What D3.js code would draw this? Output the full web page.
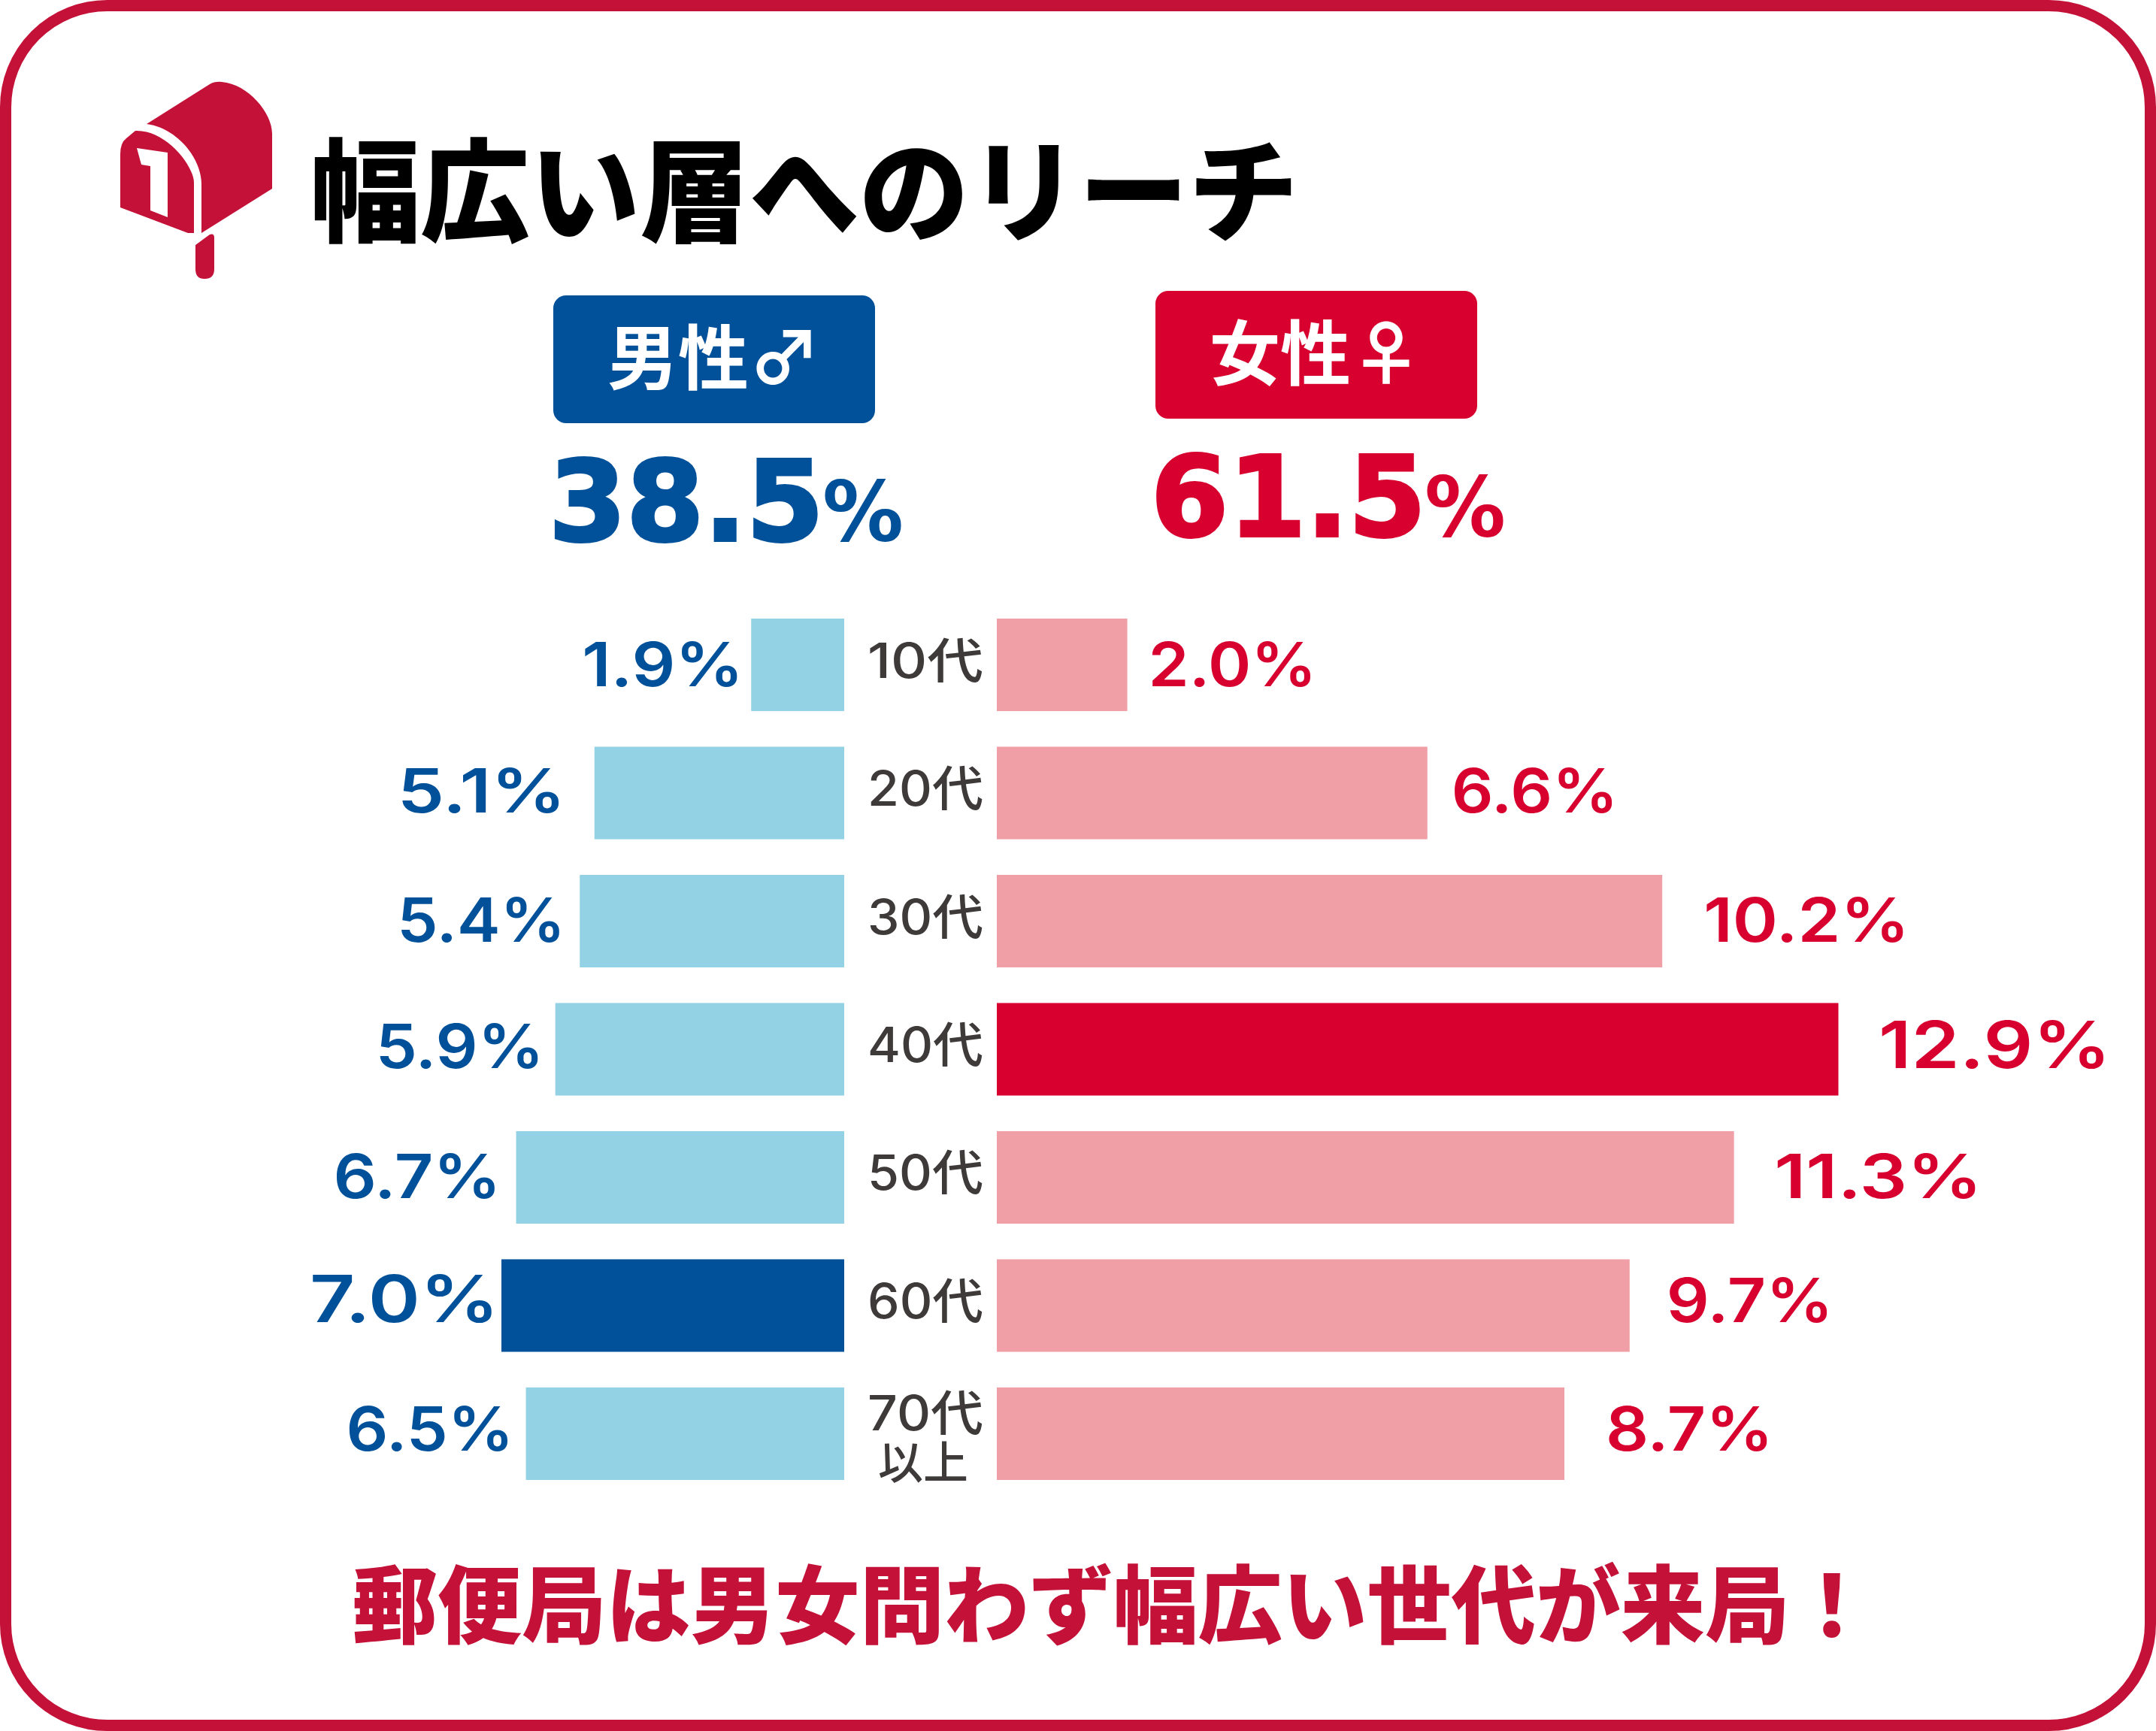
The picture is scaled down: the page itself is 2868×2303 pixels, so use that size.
<!DOCTYPE html>
<html lang="ja">
<head>
<meta charset="utf-8">
<title>幅広い層へのリーチ</title>
<script src="https://cdnjs.cloudflare.com/ajax/libs/d3/7.8.5/d3.min.js"></script>
<style>
  html, body { margin: 0; padding: 0; background: #fff; }
  svg { display: block; }
  .jp { font-family: "Noto Sans CJK JP", sans-serif; }
  .num { font-family: Inter, "Liberation Sans", sans-serif; }
  .total { font-family: "DejaVu Sans", sans-serif; }
  .age { font-family: Inter, "Noto Sans CJK JP", sans-serif; }
</style>
</head>
<body>
<svg id="chart" width="2868" height="2303"></svg>
<script>
const ageGroups = ['10代', '20代', '30代', '40代', '50代', '60代', '70代以上'];
const maleValues = [1.9, 5.1, 5.4, 5.9, 6.7, 7.0, 6.5];
const femaleValues = [2.0, 6.6, 10.2, 12.9, 11.3, 9.7, 8.7];
const genderNames = ['男性♂', '女性♀'];
const genderTotals = ['38.5', '61.5'];
const chartTitle = '幅広い層へのリーチ';
const footerText = '郵便局は男女問わず幅広い世代が来局！';

// the labels sit a little unevenly in the original, so they get their own tweaks
const rowBaseline = [90, 87.5, 89, 86.5, 89, 83.5, 84];
const maleGap = [10, 38, 19, 15, 20, 3, 16];
const femaleGap = [28, 32, 55, 53.5, 53.5, 49, 55];
const maleLabelWidth = [215, 224, 224, 224, 223, 252, 223];
const femaleLabelWidth = [224, 222, 274, 309, 277, 222, 223];

const colors = {
  frame: '#c41138',
  blue: '#00519a',
  lightBlue: '#93d2e4',
  red: '#d7002f',
  pink: '#f09fa6',
  text: '#3e3a39',
};

const svg = d3.select('#chart');

svg.append('rect')
  .attr('x', 7.5).attr('y', 7.5)
  .attr('width', 2853).attr('height', 2288)
  .attr('rx', 135).attr('ry', 135)
  .attr('fill', '#fff')
  .attr('stroke', colors.frame)
  .attr('stroke-width', 15);

// mailbox icon
const icon = svg.append('g').attr('fill', colors.frame);
icon.append('path').attr('d', 'M195,165 L279,112 Q286,108 295,109 C330,112 362,150 362,178 L362,251 L268,310 L268,245 C268,210 235,170 195,165 Z');
icon.append('path').attr('d', 'M180,174 C220,172 258,220 258,243 L258,310 L250,310 L160,276 L160,205 Q160,190 168,184 Z');
icon.append('path').attr('fill', '#fff').attr('d', 'M182,197 L223,203 L223,289 L200,280 L200,221 L188,219 Z');
icon.append('path').attr('d', 'M260,326 L279,312 Q285,310 285,316 L285,358 Q285,371 272,371 Q260,371 260,358 Z');

svg.append('text')
  .attr('class', 'jp')
  .attr('x', 413).attr('y', 310)
  .attr('font-size', 149).attr('font-weight', 900)
  .attr('fill', '#000')
  .attr('textLength', 1314).attr('lengthAdjust', 'spacingAndGlyphs')
  .text(chartTitle);

// gender badges and totals
const badgeColors = [colors.blue, colors.red];
const badgeX = [736, 1537];
const badgeY = [393, 387];

badgeX.forEach((x, i) => {
  const g = svg.append('g');
  g.append('rect')
    .attr('x', x).attr('y', badgeY[i])
    .attr('width', 428).attr('height', 170)
    .attr('rx', 17)
    .attr('fill', badgeColors[i]);
  g.append('text')
    .attr('class', 'jp')
    .attr('x', x + 72).attr('y', badgeY[i] + 118)
    .attr('font-size', 94).attr('font-weight', 700)
    .attr('fill', '#fff')
    .attr('textLength', 282).attr('lengthAdjust', 'spacingAndGlyphs')
    .text(genderNames[i]);
  g.append('text')
    .attr('class', 'total')
    .attr('x', x - 6).attr('y', badgeY[i] + 326)
    .attr('font-size', 148).attr('font-weight', 700)
    .attr('fill', badgeColors[i])
    .attr('stroke', badgeColors[i])
    .attr('stroke-width', 4)
    .attr('textLength', 366).attr('lengthAdjust', 'spacingAndGlyphs')
    .text(genderTotals[i]);
  g.append('text')
    .attr('class', 'total')
    .attr('x', x + 358).attr('y', badgeY[i] + 326)
    .attr('font-size', 110).attr('font-weight', 700)
    .attr('fill', badgeColors[i])
    .attr('textLength', 108).attr('lengthAdjust', 'spacingAndGlyphs')
    .text('%');
});

// pyramid
const y = d3.scaleBand()
  .domain(ageGroups)
  .range([823, 1969])
  .paddingInner(0.278);

const xMale = d3.scaleLinear().domain([0, 7.0]).range([1123, 667]);
const xFemale = d3.scaleLinear().domain([0, 12.9]).range([1326, 2445.5]);

const maleMax = d3.max(maleValues);
const femaleMax = d3.max(femaleValues);

svg.append('g').selectAll('rect')
  .data(maleValues)
  .join('rect')
  .attr('x', (d) => xMale(d))
  .attr('y', (d, i) => y(ageGroups[i]))
  .attr('width', (d) => xMale(0) - xMale(d))
  .attr('height', y.bandwidth())
  .attr('fill', (d) => (d === maleMax ? colors.blue : colors.lightBlue));

svg.append('g').selectAll('rect')
  .data(femaleValues)
  .join('rect')
  .attr('x', xFemale(0))
  .attr('y', (d, i) => y(ageGroups[i]))
  .attr('width', (d) => xFemale(d) - xFemale(0))
  .attr('height', y.bandwidth())
  .attr('fill', (d) => (d === femaleMax ? colors.red : colors.pink));

svg.append('g').selectAll('text')
  .data(maleValues)
  .join('text')
  .attr('class', 'num')
  .attr('x', (d, i) => xMale(d) - maleGap[i] - maleLabelWidth[i])
  .attr('y', (d, i) => y(ageGroups[i]) + rowBaseline[i])
  .attr('font-size', (d) => (d === maleMax ? 87 : 81))
  .attr('font-weight', 600)
  .attr('fill', colors.blue)
  .attr('textLength', (d, i) => maleLabelWidth[i])
  .attr('lengthAdjust', 'spacingAndGlyphs')
  .text((d) => `${d.toFixed(1)}%`);

svg.append('g').selectAll('text')
  .data(femaleValues)
  .join('text')
  .attr('class', 'num')
  .attr('x', (d, i) => xFemale(d) + femaleGap[i])
  .attr('y', (d, i) => y(ageGroups[i]) + rowBaseline[i])
  .attr('font-size', (d) => (d === femaleMax ? 87 : 81))
  .attr('font-weight', 600)
  .attr('fill', colors.red)
  .attr('textLength', (d, i) => femaleLabelWidth[i])
  .attr('lengthAdjust', 'spacingAndGlyphs')
  .text((d) => `${d.toFixed(1)}%`);

// age labels come from a plain axis, the last one breaks over two lines
const ageAxis = svg.append('g')
  .attr('transform', 'translate(1308,0)')
  .call(d3.axisLeft(y).tickSize(0).tickPadding(0));

ageAxis.select('.domain').remove();

ageAxis.selectAll('.tick text').each(function (d) {
  const label = d3.select(this);
  const lines = d.length > 3 ? [d.slice(0, 3), d.slice(3)] : [d];
  label.text(null)
    .attr('class', 'age')
    .attr('dy', null)
    .attr('font-size', 64)
    .attr('font-weight', 500)
    .attr('fill', colors.text);
  lines.forEach((line, i) => {
    label.append('tspan')
      .attr('x', i === 0 ? 0 : -20)
      .attr('y', lines.length > 1 ? (i === 0 ? -4 : 61) : 17)
      .attr('font-size', i === 0 ? 64 : 60)
      .attr('textLength', i === 0 ? 154 : 120)
      .attr('lengthAdjust', 'spacingAndGlyphs')
      .text(line);
  });
});

svg.append('text')
  .attr('class', 'jp')
  .attr('x', 469).attr('y', 2177)
  .attr('font-size', 113).attr('font-weight', 900)
  .attr('fill', colors.frame)
  .attr('textLength', 2024).attr('lengthAdjust', 'spacingAndGlyphs')
  .text(footerText);
</script>
</body>
</html>
